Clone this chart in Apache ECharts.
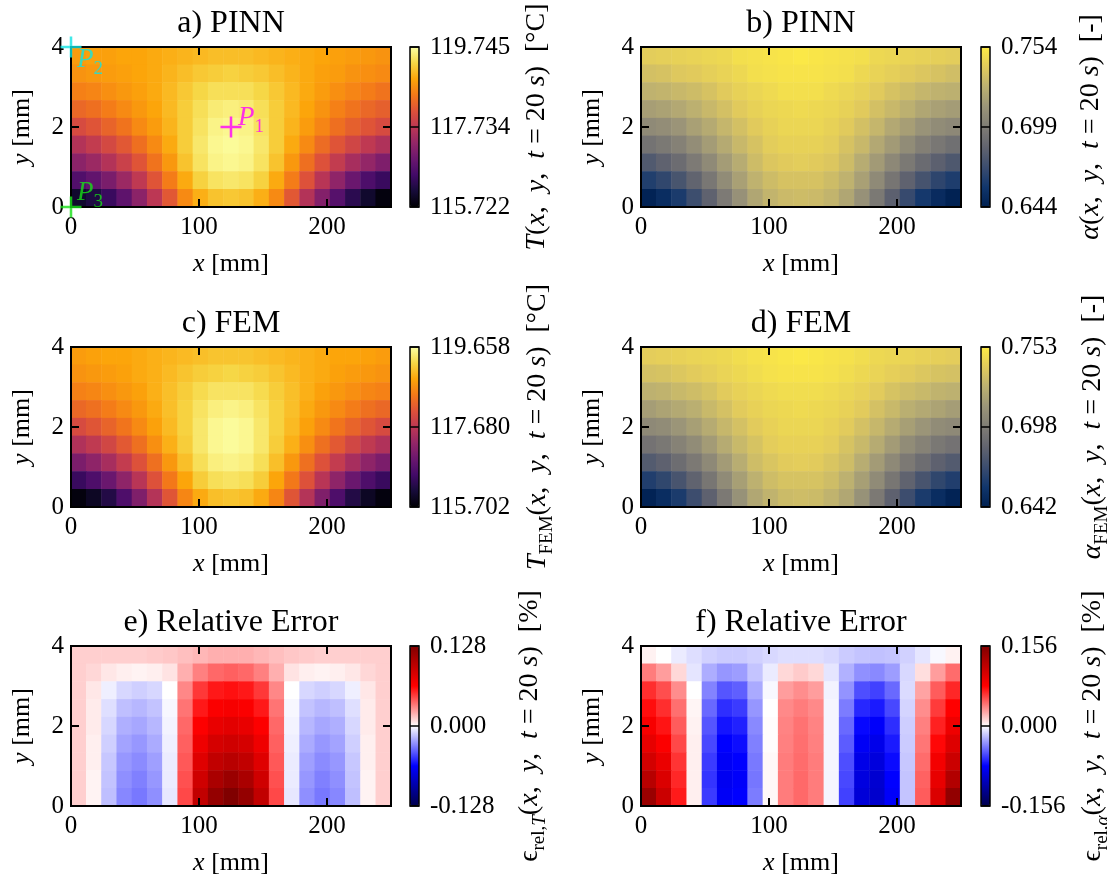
<!DOCTYPE html>
<html>
<head>
<meta charset="utf-8">
<script src="https://cdn.jsdelivr.net/npm/echarts@6/dist/echarts.min.js"></script>
<style>
  html, body { margin: 0; padding: 0; background: #fff; }
  #chart { width: 1107px; height: 877px; }
</style>
</head>
<body>
<div id="chart"></div>
<script>
// cell positions of the sampled field (mm)
const xCells = [0, 12.5, 25, 37.5, 50, 62.5, 75, 87.5, 100, 112.5, 125, 137.5, 150, 162.5, 175, 187.5, 200, 212.5, 225, 237.5, 250];
const yCells = [0, 0.5, 1, 1.5, 2, 2.5, 3, 3.5, 4];
const xTicks = [0, 100, 200];
const yTicks = [0, 2, 4];

// every field: rows from y = 4 (top) down to y = 0
const tPinn = [
  [118.86,118.90,118.90,118.94,118.94,118.98,119.02,119.06,119.10,119.14,119.14,119.14,119.10,119.06,119.02,118.98,118.94,118.90,118.86,118.82,118.78],
  [118.78,118.82,118.86,118.90,118.94,118.98,119.06,119.14,119.22,119.26,119.30,119.26,119.22,119.14,119.06,118.98,118.90,118.86,118.78,118.74,118.70],
  [118.61,118.65,118.74,118.82,118.90,118.98,119.10,119.22,119.34,119.42,119.42,119.42,119.34,119.22,119.10,118.98,118.86,118.74,118.65,118.57,118.49],
  [118.37,118.45,118.57,118.70,118.82,118.94,119.10,119.26,119.42,119.54,119.58,119.54,119.42,119.26,119.10,118.94,118.78,118.61,118.49,118.37,118.29],
  [118.05,118.17,118.33,118.49,118.70,118.86,119.06,119.26,119.46,119.62,119.66,119.62,119.46,119.26,119.06,118.86,118.65,118.45,118.29,118.17,118.05],
  [117.65,117.81,118.01,118.21,118.45,118.70,118.98,119.26,119.50,119.66,119.70,119.66,119.50,119.26,118.98,118.70,118.41,118.17,117.97,117.77,117.61],
  [117.25,117.41,117.65,117.89,118.17,118.49,118.82,119.18,119.46,119.62,119.66,119.62,119.46,119.18,118.82,118.45,118.13,117.81,117.53,117.33,117.13],
  [116.68,116.85,117.09,117.41,117.77,118.17,118.57,118.98,119.30,119.46,119.50,119.46,119.30,118.98,118.57,118.13,117.69,117.29,116.93,116.64,116.44],
  [116.04,116.20,116.44,116.81,117.25,117.73,118.21,118.70,119.02,119.18,119.22,119.18,119.02,118.70,118.21,117.65,117.17,116.73,116.32,116.04,115.80]
];

const alphaPinn = [
  [0.741,0.742,0.743,0.744,0.745,0.746,0.749,0.750,0.751,0.752,0.753,0.752,0.751,0.750,0.749,0.746,0.745,0.744,0.743,0.742,0.741],
  [0.735,0.736,0.739,0.740,0.742,0.744,0.746,0.749,0.750,0.751,0.751,0.751,0.750,0.749,0.746,0.744,0.742,0.740,0.738,0.736,0.734],
  [0.728,0.729,0.731,0.733,0.736,0.740,0.743,0.745,0.747,0.749,0.749,0.749,0.747,0.745,0.743,0.740,0.736,0.733,0.730,0.728,0.727],
  [0.718,0.720,0.723,0.727,0.731,0.735,0.740,0.743,0.745,0.746,0.747,0.746,0.745,0.743,0.740,0.735,0.731,0.727,0.722,0.719,0.717],
  [0.707,0.709,0.713,0.719,0.724,0.730,0.735,0.740,0.743,0.745,0.745,0.745,0.743,0.740,0.735,0.730,0.723,0.718,0.712,0.708,0.706],
  [0.694,0.697,0.702,0.709,0.717,0.724,0.731,0.736,0.741,0.743,0.743,0.743,0.741,0.736,0.731,0.723,0.716,0.708,0.701,0.696,0.692],
  [0.679,0.684,0.690,0.698,0.707,0.717,0.725,0.733,0.738,0.740,0.741,0.740,0.738,0.733,0.725,0.716,0.706,0.697,0.689,0.683,0.678],
  [0.663,0.668,0.676,0.685,0.696,0.708,0.719,0.728,0.733,0.736,0.736,0.736,0.733,0.728,0.719,0.707,0.695,0.684,0.675,0.667,0.662],
  [0.646,0.652,0.661,0.672,0.684,0.698,0.711,0.722,0.729,0.732,0.733,0.732,0.729,0.722,0.711,0.697,0.683,0.670,0.659,0.651,0.645]
];

const tFem = [
  [118.79,118.83,118.87,118.87,118.91,118.95,118.99,119.03,119.07,119.11,119.11,119.11,119.07,119.03,118.99,118.95,118.91,118.87,118.87,118.83,118.79],
  [118.71,118.75,118.79,118.83,118.91,118.95,119.03,119.11,119.18,119.22,119.26,119.22,119.18,119.11,119.03,118.95,118.91,118.83,118.79,118.75,118.71],
  [118.55,118.59,118.67,118.75,118.83,118.95,119.07,119.18,119.30,119.38,119.38,119.38,119.30,119.18,119.07,118.95,118.83,118.75,118.67,118.59,118.55],
  [118.31,118.39,118.51,118.63,118.75,118.91,119.07,119.22,119.38,119.50,119.54,119.50,119.38,119.22,119.07,118.91,118.75,118.63,118.51,118.39,118.31],
  [117.99,118.12,118.27,118.43,118.63,118.83,119.03,119.22,119.42,119.58,119.62,119.58,119.42,119.22,119.03,118.83,118.63,118.43,118.27,118.12,117.99],
  [117.56,117.72,117.92,118.16,118.39,118.67,118.95,119.18,119.42,119.58,119.62,119.58,119.42,119.18,118.95,118.67,118.39,118.16,117.92,117.72,117.56],
  [117.05,117.24,117.48,117.76,118.08,118.39,118.75,119.07,119.34,119.50,119.54,119.50,119.34,119.07,118.75,118.39,118.08,117.76,117.48,117.24,117.05],
  [116.41,116.61,116.89,117.24,117.64,118.08,118.47,118.87,119.18,119.34,119.38,119.34,119.18,118.87,118.47,118.08,117.64,117.24,116.89,116.61,116.41],
  [115.78,115.94,116.21,116.61,117.09,117.60,118.12,118.59,118.91,119.07,119.11,119.07,118.91,118.59,118.12,117.60,117.09,116.61,116.21,115.94,115.78]
];

const alphaFem = [
  [0.740,0.741,0.742,0.743,0.744,0.745,0.747,0.749,0.750,0.751,0.752,0.751,0.750,0.749,0.747,0.745,0.744,0.743,0.742,0.741,0.740],
  [0.734,0.735,0.737,0.739,0.741,0.743,0.745,0.747,0.749,0.750,0.750,0.750,0.749,0.747,0.745,0.743,0.741,0.739,0.737,0.735,0.734],
  [0.726,0.727,0.730,0.732,0.735,0.739,0.742,0.744,0.746,0.747,0.747,0.747,0.746,0.744,0.742,0.739,0.735,0.732,0.730,0.727,0.726],
  [0.716,0.719,0.722,0.725,0.730,0.734,0.739,0.742,0.744,0.745,0.746,0.745,0.744,0.742,0.739,0.734,0.730,0.725,0.722,0.719,0.716],
  [0.705,0.707,0.712,0.717,0.723,0.729,0.734,0.739,0.742,0.744,0.744,0.744,0.742,0.739,0.734,0.729,0.723,0.717,0.712,0.707,0.705],
  [0.692,0.695,0.701,0.707,0.715,0.723,0.730,0.735,0.740,0.742,0.742,0.742,0.740,0.735,0.730,0.723,0.715,0.707,0.701,0.695,0.692],
  [0.678,0.682,0.689,0.696,0.705,0.715,0.724,0.732,0.736,0.739,0.740,0.739,0.736,0.732,0.724,0.715,0.705,0.696,0.689,0.682,0.678],
  [0.661,0.666,0.674,0.683,0.694,0.706,0.717,0.726,0.732,0.735,0.735,0.735,0.732,0.726,0.717,0.706,0.694,0.683,0.674,0.666,0.661],
  [0.644,0.650,0.659,0.670,0.682,0.696,0.710,0.721,0.727,0.731,0.732,0.731,0.727,0.721,0.710,0.696,0.682,0.670,0.659,0.650,0.644]
];

const errT = [
  [0.012,0.012,0.012,0.012,0.012,0.013,0.014,0.016,0.018,0.020,0.020,0.020,0.018,0.016,0.014,0.013,0.012,0.012,0.012,0.012,0.012],
  [0.012,0.010,0.006,0.004,0.003,0.004,0.007,0.020,0.032,0.038,0.040,0.038,0.032,0.020,0.007,0.004,0.003,0.004,0.006,0.010,0.012],
  [0.012,0.006,-0.004,-0.010,-0.012,-0.010,0.000,0.030,0.050,0.058,0.060,0.058,0.050,0.030,0.000,-0.010,-0.012,-0.010,-0.004,0.006,0.012],
  [0.012,0.005,-0.008,-0.016,-0.018,-0.015,-0.002,0.035,0.058,0.066,0.068,0.066,0.058,0.035,-0.002,-0.015,-0.018,-0.016,-0.008,0.005,0.012],
  [0.012,0.005,-0.010,-0.020,-0.022,-0.018,-0.003,0.038,0.065,0.075,0.078,0.075,0.065,0.038,-0.003,-0.018,-0.022,-0.020,-0.010,0.005,0.012],
  [0.012,0.004,-0.012,-0.023,-0.026,-0.021,-0.004,0.040,0.072,0.085,0.088,0.085,0.072,0.040,-0.004,-0.021,-0.026,-0.023,-0.012,0.004,0.012],
  [0.012,0.004,-0.014,-0.026,-0.029,-0.024,-0.005,0.042,0.080,0.095,0.100,0.095,0.080,0.042,-0.005,-0.024,-0.029,-0.026,-0.014,0.004,0.012],
  [0.012,0.003,-0.015,-0.028,-0.032,-0.026,-0.005,0.044,0.088,0.107,0.115,0.107,0.088,0.044,-0.005,-0.026,-0.032,-0.028,-0.015,0.003,0.012],
  [0.012,0.003,-0.016,-0.030,-0.034,-0.028,-0.006,0.046,0.095,0.118,0.128,0.118,0.095,0.046,-0.006,-0.028,-0.034,-0.030,-0.016,0.003,0.012]
];

const errAlpha = [
  [0.004,0.000,-0.006,-0.010,-0.014,-0.016,-0.016,-0.014,-0.012,-0.010,-0.010,-0.010,-0.012,-0.016,-0.018,-0.019,-0.018,-0.014,-0.008,-0.002,0.004],
  [0.040,0.030,0.012,-0.008,-0.025,-0.032,-0.030,-0.018,-0.006,0.012,0.016,0.012,-0.008,-0.024,-0.034,-0.036,-0.030,-0.012,0.010,0.030,0.045],
  [0.064,0.054,0.035,0.000,-0.038,-0.052,-0.049,-0.026,-0.002,0.030,0.035,0.030,-0.004,-0.033,-0.054,-0.058,-0.046,-0.011,0.028,0.050,0.066],
  [0.074,0.064,0.044,0.003,-0.046,-0.064,-0.060,-0.032,0.000,0.036,0.040,0.036,-0.003,-0.040,-0.066,-0.070,-0.056,-0.013,0.035,0.060,0.078],
  [0.083,0.072,0.050,0.004,-0.052,-0.072,-0.068,-0.036,0.001,0.038,0.043,0.038,-0.003,-0.046,-0.076,-0.080,-0.064,-0.015,0.039,0.068,0.088],
  [0.093,0.080,0.056,0.005,-0.056,-0.078,-0.074,-0.039,0.001,0.039,0.044,0.039,-0.003,-0.050,-0.082,-0.087,-0.070,-0.016,0.042,0.076,0.098],
  [0.105,0.090,0.062,0.005,-0.060,-0.082,-0.078,-0.041,0.002,0.040,0.045,0.040,-0.003,-0.054,-0.088,-0.093,-0.075,-0.017,0.045,0.085,0.110],
  [0.122,0.100,0.066,0.005,-0.062,-0.084,-0.080,-0.042,0.002,0.040,0.046,0.040,-0.003,-0.056,-0.092,-0.098,-0.078,-0.018,0.048,0.092,0.125],
  [0.140,0.110,0.070,0.005,-0.060,-0.082,-0.078,-0.040,0.002,0.040,0.046,0.040,-0.003,-0.058,-0.095,-0.100,-0.080,-0.018,0.050,0.100,0.145]
];

// colorbar ticks (min, mid, max)
const cbTicksTPinn = [115.722, 117.734, 119.745];
const cbTicksAlphaPinn = [0.644, 0.699, 0.754];
const cbTicksTFem = [115.702, 117.680, 119.658];
const cbTicksAlphaFem = [0.642, 0.698, 0.753];
const cbTicksErrT = [-0.128, 0.000, 0.128];
const cbTicksErrAlpha = [-0.156, 0.000, 0.156];

// probe points in panel a
const pointNames = ['1', '2', '3'];
const pointX = [125, 0, 0];
const pointY = [2, 4, 0];

const inferno = ['#000004', '#160b39', '#420a68', '#6a176e', '#932667', '#bc3754', '#dd513a', '#f37819', '#fca50a', '#f6d746', '#fcffa4'];
const cividis = ['#002051', '#11366c', '#3c4d6e', '#62646f', '#7f7c75', '#9a9478', '#bbaf71', '#e2cb5c', '#fdea45'];
const seismic = ['#00004c', '#0000ff', '#ffffff', '#ff0000', '#800000'];

const FONT = 'Liberation Serif';
const colLeft = [71, 641];
const cbLeft = [410, 981];
const rowTop = [47, 347, 646];
const PW = 320, PH = 160, CBW = 9;

const tail = '{r|(}{i|x}{r|,  }{i|y}{r|,  }{i|t}{r| = 20 }{i|s}{r|)  ';
const panels = [
  { title: 'a) PINN', data: tPinn, ticks: cbTicksTPinn, cmap: inferno, col: 0, row: 0, labelX: 537,
    label: '{i|T}' + tail + '[°C]}' },
  { title: 'b) PINN', data: alphaPinn, ticks: cbTicksAlphaPinn, cmap: cividis, col: 1, row: 0, labelX: 1091,
    label: '{i|α}' + tail + '[-]}' },
  { title: 'c) FEM', data: tFem, ticks: cbTicksTFem, cmap: inferno, col: 0, row: 1, labelX: 538,
    label: '{i|T}{sr|FEM}' + tail + '[°C]}' },
  { title: 'd) FEM', data: alphaFem, ticks: cbTicksAlphaFem, cmap: cividis, col: 1, row: 1, labelX: 1093,
    label: '{i|α}{sr|FEM}' + tail + '[-]}' },
  { title: 'e) Relative Error', data: errT, ticks: cbTicksErrT, cmap: seismic, col: 0, row: 2, labelX: 530,
    label: '{r|ϵ}{sr|rel,}{si|T}' + tail + '[%]}' },
  { title: 'f) Relative Error', data: errAlpha, ticks: cbTicksErrAlpha, cmap: seismic, col: 1, row: 2, labelX: 1093,
    label: '{r|ϵ}{sr|rel,}{si|α}' + tail + '[%]}' }
];

const labelRich = {
  i: { fontFamily: FONT, fontSize: 28, fontStyle: 'italic', lineHeight: 28, verticalAlign: 'top', color: '#000' },
  r: { fontFamily: FONT, fontSize: 28, lineHeight: 28, verticalAlign: 'top', color: '#000' },
  si: { fontFamily: FONT, fontSize: 19, fontStyle: 'italic', lineHeight: 19, verticalAlign: 'top', padding: [14, 0, 0, 0], color: '#000' },
  sr: { fontFamily: FONT, fontSize: 19, lineHeight: 19, verticalAlign: 'top', padding: [14, 0, 0, 0], color: '#000' }
};

const toCells = (rows) => {
  const out = [];
  rows.forEach((row, r) => row.forEach((v, c) => out.push([c, yCells.length - 1 - r, v])));
  return out;
};

const tickStyle = { show: true, inside: true, length: 8, lineStyle: { color: '#000', width: 2 } };
const numLabel = { fontFamily: FONT, fontSize: 25, color: '#000' };
const nameStyle = {
  fontFamily: FONT, fontSize: 26, color: '#000',
  rich: { i: { fontFamily: FONT, fontSize: 26, fontStyle: 'italic', color: '#000' } }
};

const grid = [], xAxis = [], yAxis = [], series = [], visualMap = [], graphic = [];

panels.forEach((p, i) => {
  const left = colLeft[p.col], top = rowTop[p.row];

  const g = grid.length;
  grid.push({ left, top, width: PW, height: PH, show: true, borderColor: '#000', borderWidth: 2,
    backgroundColor: 'transparent', z: 5 });

  const xc = xAxis.length;
  xAxis.push({ type: 'category', gridIndex: g, data: xCells, show: false });
  const xValue = (pos, withLabels) => ({
    type: 'value', gridIndex: g, position: pos, min: 0, max: 250, interval: 100, z: 10,
    axisLine: { show: false, onZero: false },
    axisTick: { ...tickStyle, customValues: xTicks },
    axisLabel: withLabels
      ? { ...numLabel, margin: 8, customValues: xTicks, formatter: v => xTicks.includes(v) ? String(v) : '' }
      : { show: false },
    splitLine: { show: false },
    name: withLabels ? '{i|x} [mm]' : '', nameLocation: 'middle', nameGap: 44, nameTextStyle: nameStyle
  });
  xAxis.push(xValue('bottom', true));
  xAxis.push(xValue('top', false));

  const yc = yAxis.length;
  yAxis.push({ type: 'category', gridIndex: g, data: yCells, show: false });
  const yValue = (pos, withLabels) => ({
    type: 'value', gridIndex: g, position: pos, min: 0, max: 4, interval: 2, z: 10,
    axisLine: { show: false, onZero: false },
    axisTick: { ...tickStyle, customValues: yTicks },
    axisLabel: withLabels ? { ...numLabel, margin: 7, customValues: yTicks } : { show: false },
    splitLine: { show: false },
    name: withLabels ? '{i|y} [mm]' : '', nameLocation: 'middle', nameRotate: 90, nameGap: 36,
    nameTextStyle: nameStyle
  });
  yAxis.push(yValue('left', true));
  yAxis.push(yValue('right', false));

  series.push({
    type: 'heatmap', xAxisIndex: xc, yAxisIndex: yc, data: toCells(p.data),
    itemStyle: { borderWidth: 0 }, emphasis: { disabled: true }, silent: true, z: 2
  });

  const lo = p.ticks[0], hi = p.ticks[2];
  visualMap.push({
    type: 'continuous', seriesIndex: i, min: lo, max: hi, inRange: { color: p.cmap },
    orient: 'vertical', left: cbLeft[p.col], top, itemWidth: CBW, itemHeight: PH,
    calculable: false, hoverLink: false, padding: 0, z: 3
  });

  // colorbar frame + ticks
  const cg = grid.length;
  grid.push({ left: cbLeft[p.col], top, width: CBW, height: PH, show: true, borderColor: '#000',
    borderWidth: 1.5, backgroundColor: 'transparent', z: 5 });
  xAxis.push({ type: 'value', gridIndex: cg, show: false });
  yAxis.push({
    type: 'value', gridIndex: cg, position: 'right', min: lo, max: hi, interval: (hi - lo) / 2, z: 10,
    axisLine: { show: false, onZero: false },
    axisTick: { show: true, inside: true, length: CBW, customValues: p.ticks, lineStyle: { color: '#000', width: 1.5 } },
    axisLabel: { ...numLabel, margin: 11, customValues: p.ticks, formatter: v => v.toFixed(3) },
    splitLine: { show: false }
  });

  graphic.push({
    type: 'text', x: left + PW / 2, y: top - 23, z: 20,
    style: { text: p.title, fontFamily: FONT, fontSize: 32, fill: '#000',
      align: 'center', verticalAlign: 'middle', textAlign: 'center', textVerticalAlign: 'middle' }
  });
  graphic.push({
    type: 'text', x: p.labelX, y: top + PH / 2, rotation: Math.PI / 2, z: 20,
    style: { text: p.label, rich: labelRich, fontFamily: FONT, fontSize: 28, fill: '#000',
      align: 'center', verticalAlign: 'middle', textAlign: 'center', textVerticalAlign: 'middle' }
  });
});

// probe markers on panel a (xAxis 1 / yAxis 1 are its value axes)
const pointColors = ['#ff00ff', '#10e4e4', '#18e018'];
const pointLabelPos = [[17.5, -12], [16.5, 10], [16.5, -17]];
series.push({
  type: 'scatter', xAxisIndex: 1, yAxisIndex: 1, clip: false, z: 12, silent: true,
  symbol: 'path://M0,8.8H20V11.2H0ZM8.8,0H11.2V20H8.8Z', symbolSize: 21,
  data: pointNames.map((n, k) => ({
    name: n, value: [pointX[k], pointY[k]],
    itemStyle: { color: pointColors[k] },
    label: { position: pointLabelPos[k], color: pointColors[k] }
  })),
  label: {
    show: true, align: 'left', verticalAlign: 'top',
    formatter: q => '{i|P}{s|' + q.name + '}',
    rich: {
      i: { fontFamily: FONT, fontSize: 27, fontStyle: 'italic', lineHeight: 27, verticalAlign: 'top' },
      s: { fontFamily: FONT, fontSize: 19, lineHeight: 19, verticalAlign: 'top', padding: [13, 0, 0, 0] }
    }
  }
});

const chart = echarts.init(document.getElementById('chart'), null, { renderer: 'canvas' });
chart.setOption({
  animation: false,
  backgroundColor: '#fff',
  grid, xAxis, yAxis, visualMap, series, graphic
});
</script>
</body>
</html>
